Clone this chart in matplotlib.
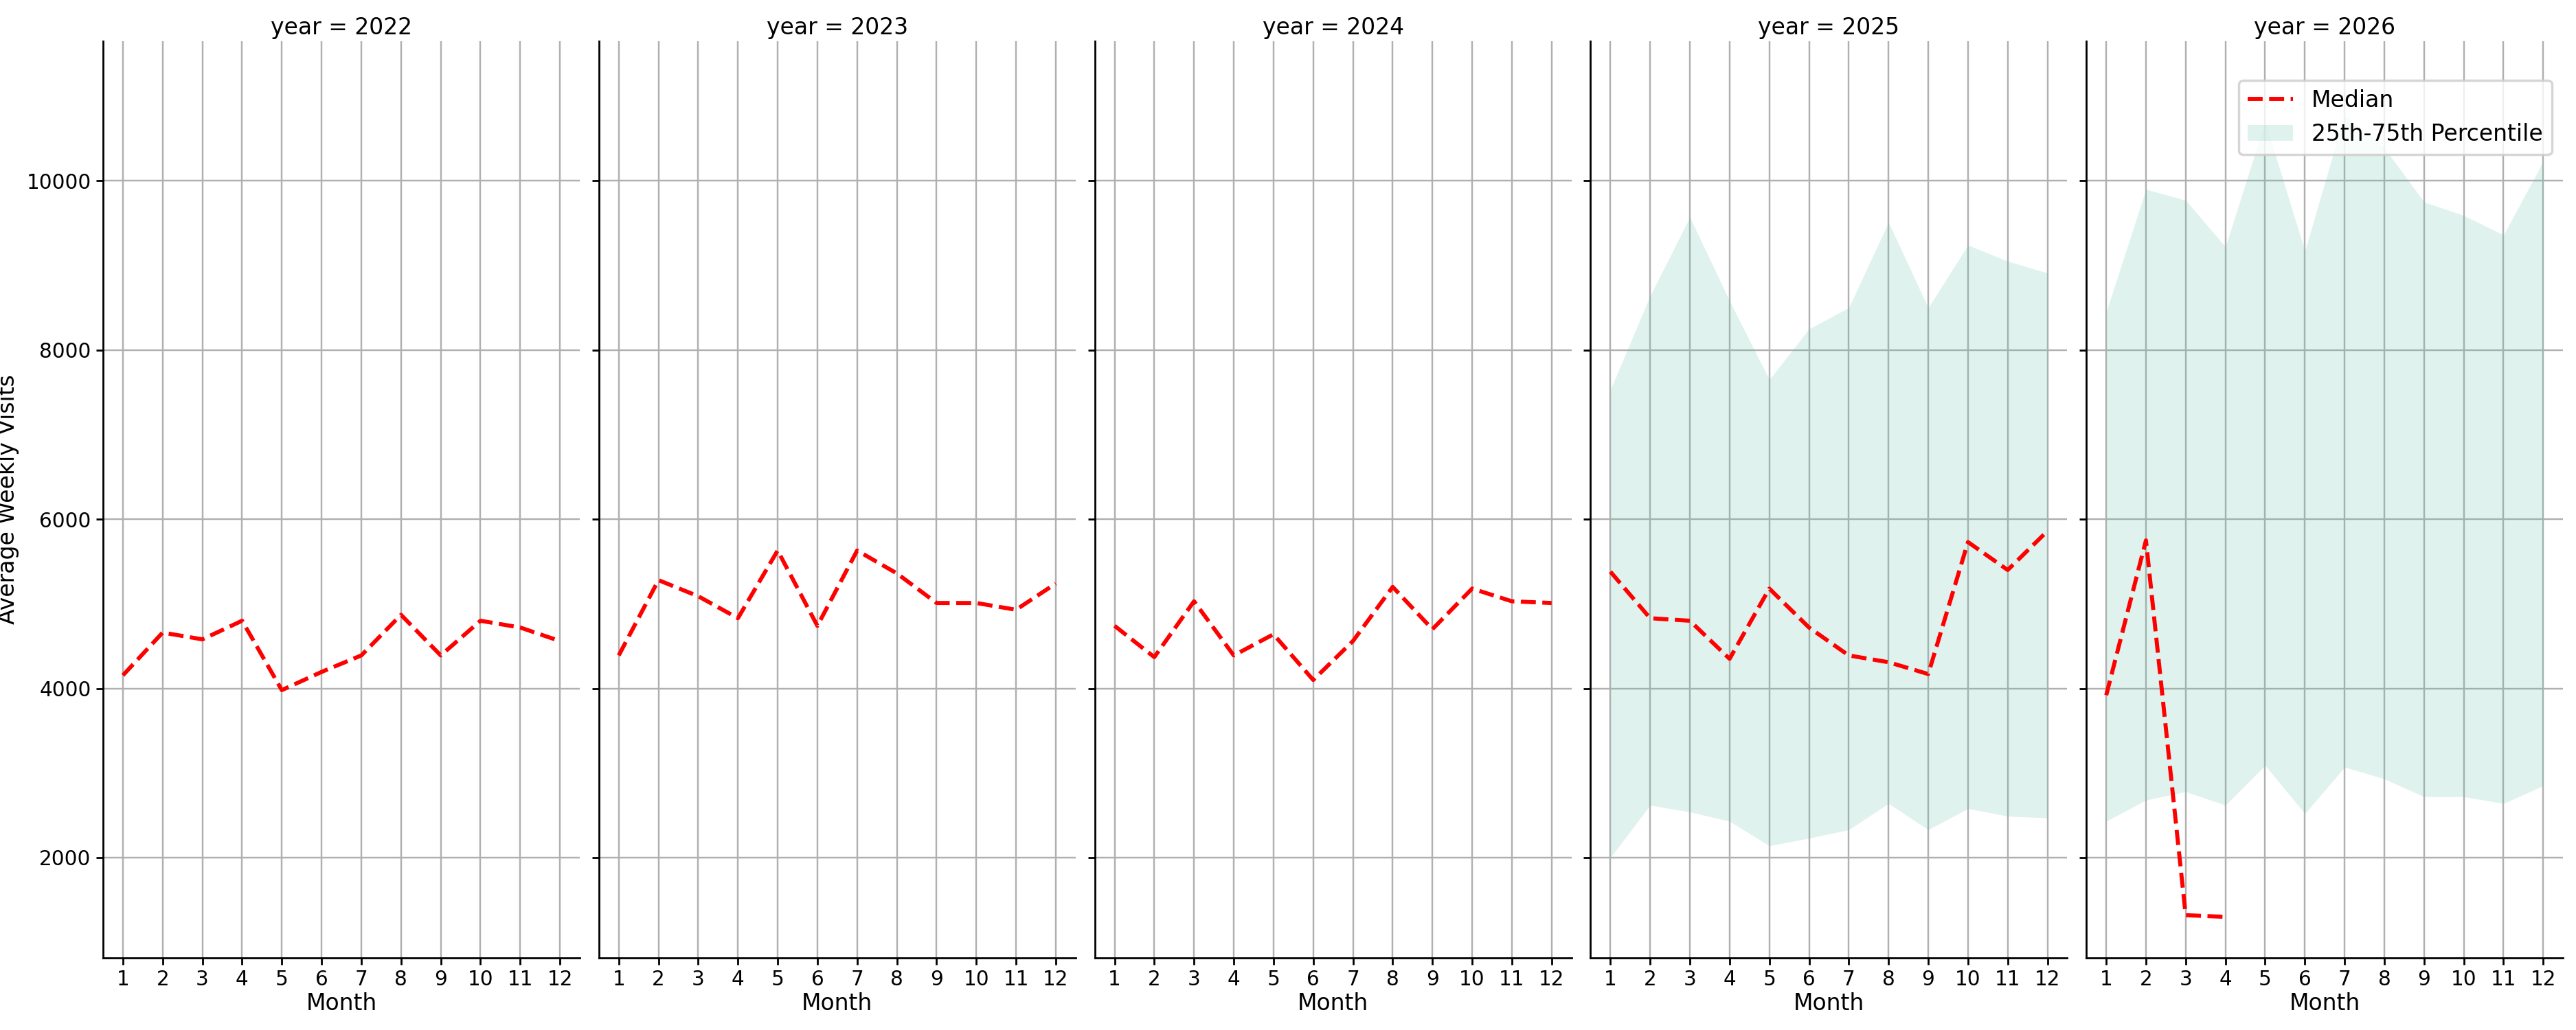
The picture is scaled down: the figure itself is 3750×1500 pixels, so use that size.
import matplotlib
matplotlib.use("Agg")
import matplotlib.pyplot as plt
import numpy as np

months = list(range(1, 13))
years = [2022, 2023, 2024, 2025, 2026]
median = {
    2022: [4155, 4660, 4580, 4800, 3980, 4195, 4390, 4870, 4390, 4800, 4720, 4560],
    2023: [4390, 5280, 5090, 4830, 5630, 4740, 5630, 5360, 5010, 5010, 4930, 5240],
    2024: [4740, 4370, 5030, 4390, 4640, 4100, 4560, 5200, 4700, 5180, 5030, 5010],
    2025: [5380, 4830, 4800, 4350, 5180, 4720, 4390, 4310, 4170, 5730, 5400, 5860],
    2026: [3920, 5750, 1320, 1300],
}
p75 = {
    2025: [7530, 8640, 9570, 8580, 7650, 8250, 8500, 9510, 8500, 9240, 9050, 8910],
    2026: [8450, 9900, 9770, 9220, 10700, 9170, 10780, 10390, 9750, 9590, 9360, 10230],
}
p25 = {
    2025: [2000, 2620, 2540, 2430, 2140, 2230, 2330, 2640, 2330, 2580, 2490, 2470],
    2026: [2430, 2680, 2780, 2620, 3090, 2520, 3070, 2930, 2720, 2720, 2640, 2850],
}

fig, axes = plt.subplots(1, 5, figsize=(15, 6), dpi=250, sharey=True)
fig.subplots_adjust(left=0.04, right=0.995, bottom=0.07, top=0.96, wspace=0.04)
for ax, yr in zip(axes, years):
    if yr in p75:
        ax.fill_between(months, p25[yr], p75[yr], color="#66c2a5", alpha=0.2,
                        linewidth=0, label="25th-75th Percentile")
    m = median[yr]
    ax.plot(months[:len(m)], m, color="red", linestyle="--", linewidth=1.7, label="Median")
    ax.set_title(f"year = {yr}", fontsize=9.5, pad=3)
    ax.set_xlabel("Month", fontsize=9.5, labelpad=1)
    ax.set_xticks(months)
    ax.set_xlim(0.5, 12.5)
    ax.grid(True, color="#b0b0b0", linewidth=0.7)
    ax.set_axisbelow(True)
    for s in ("top", "right"):
        ax.spines[s].set_visible(False)
    ax.tick_params(labelsize=8.5, length=3, pad=2)
axes[0].set_ylim(815, 11650)
axes[0].set_yticks([2000, 4000, 6000, 8000, 10000])
axes[0].set_ylabel("Average Weekly Visits", fontsize=9.5, labelpad=3)
h, l = axes[-1].get_legend_handles_labels()
order = [l.index("Median"), l.index("25th-75th Percentile")]
axes[-1].legend([h[i] for i in order], [l[i] for i in order], loc="upper right",
                fontsize=9.5, bbox_to_anchor=(1.0, 0.97))
fig.savefig("out.png")
